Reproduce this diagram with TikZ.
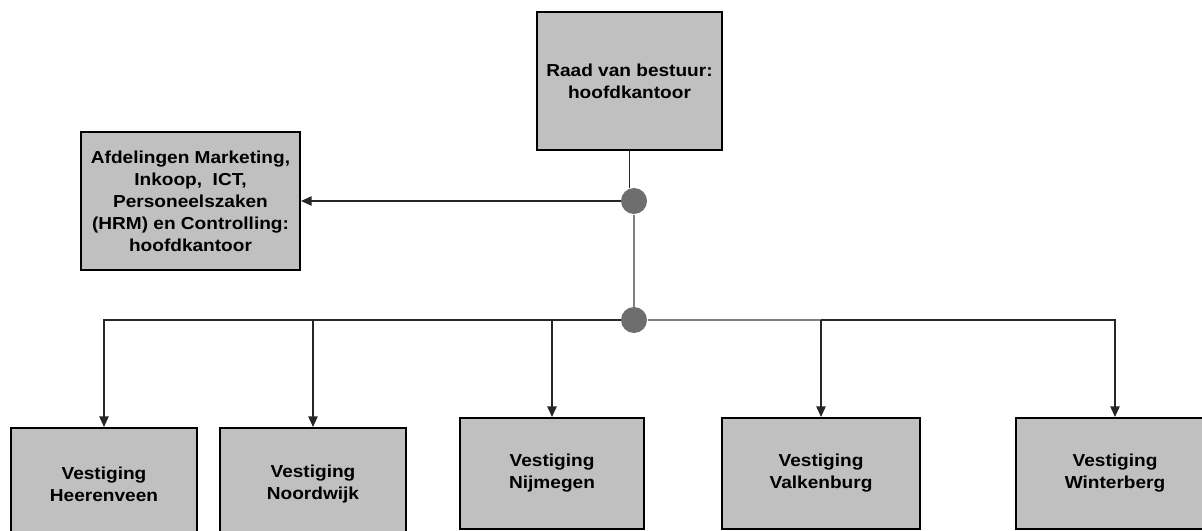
\documentclass[tikz,border=0pt]{standalone}
\usepackage{fontspec}
\newfontfamily\orgfont[FakeStretch=1.1]{Liberation Sans}
\usetikzlibrary{arrows.meta}

\definecolor{boxgray}{RGB}{192,192,192}
\definecolor{dotgray}{RGB}{110,110,110}
\definecolor{linegray}{RGB}{128,128,128}

\tikzset{every picture/.style={line width=0.75pt}}
\tikzset{
  orgbox/.style={draw=black, line width=1.5pt, fill=boxgray, align=center,
    font=\orgfont\bfseries\fontsize{13pt}{16.5pt}\selectfont, inner sep=0pt},
  joint/.style={circle, fill=dotgray, draw=none, inner sep=0pt, minimum size=19.5pt},
  link/.style={line width=1.1pt, draw=black!85},
  tip/.style={link, -{Triangle[length=8pt,width=7pt]}}
}

\begin{document}
\begin{tikzpicture}[x=0.75pt,y=0.75pt,yscale=-1,xscale=1]
        \useasboundingbox (0,0) rectangle (1202,531);
        \clip (0,0) rectangle (1202,531);

        %Shape: Rectangle [top]
        \node [orgbox, minimum width=138.75pt, minimum height=103.5pt] (raad) at (629.5,81) {Raad van bestuur:\\hoofdkantoor};
        %Shape: Rectangle [staf]
        \node [orgbox, minimum width=164.25pt, minimum height=103.5pt] (afd) at (190.5,201) {Afdelingen Marketing,\\Inkoop, \ ICT,\\Personeelszaken\\(HRM) en Controlling:\\hoofdkantoor};

        %Shape: Circle [joints]
        \node [joint] (dot1) at (634,201) {};
        \node [joint] (dot2) at (634,320) {};

        %Shape: Rectangle [vestigingen]
        \node [orgbox, minimum width=139.5pt, minimum height=84pt] (heer) at (104,484) {Vestiging\\Heerenveen};
        \node [orgbox, minimum width=139.5pt, minimum height=84pt] (noord) at (313,484) {Vestiging\\Noordwijk};
        \node [orgbox, minimum width=138pt, minimum height=83.25pt] (nijm) at (552,473.5) {Vestiging\\Nijmegen};
        \node [orgbox, minimum width=148.5pt, minimum height=83.25pt] (valk) at (821,473.5) {Vestiging\\Valkenburg};
        \node [orgbox, minimum width=148.5pt, minimum height=83.25pt] (wint) at (1115,473.5) {Vestiging\\Winterberg};

        % Connectors
        \coordinate (knik) at (valk |- dot2);
        \draw [link] (raad) -- (raad |- dot1.north);
        \draw [tip] (dot1) -- (afd);
        \draw [link, draw=linegray] (dot1) -- (dot2);
        \draw [tip] (dot2) -| (heer);
        \draw [tip] (dot2) -| (noord);
        \draw [tip] (dot2) -| (nijm);
        \draw [link, draw=linegray] (dot2) -- (knik);
        \draw [tip] (knik) -- (valk);
        \draw [tip] (knik) -| (wint);
\end{tikzpicture}
\end{document}
